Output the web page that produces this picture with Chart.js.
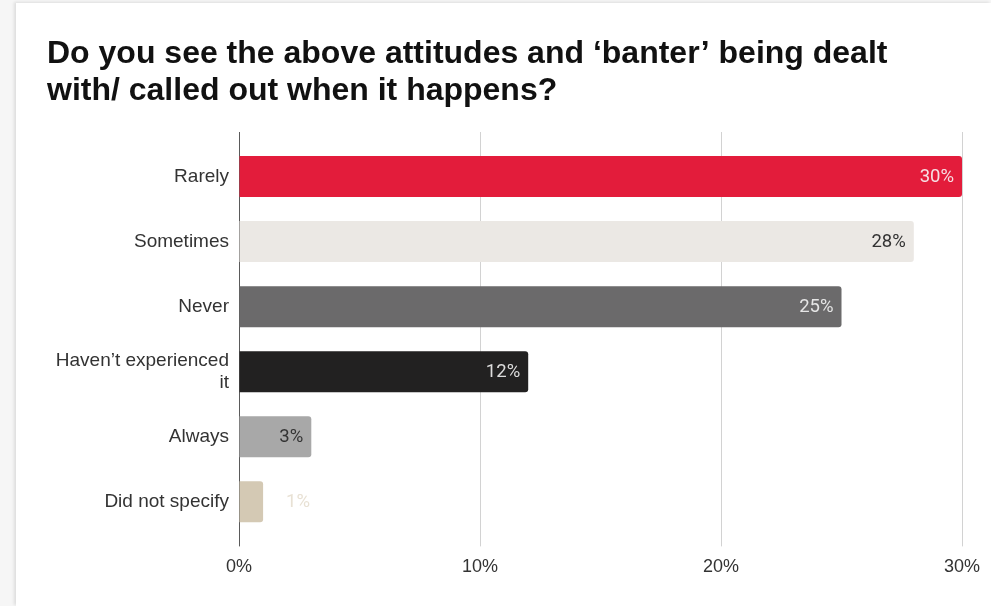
<!DOCTYPE html>
<html>
<head>
<meta charset="utf-8">
<script src="https://cdn.jsdelivr.net/npm/chart.js@4.4.1/dist/chart.umd.min.js"></script>
<style>
  html, body { margin: 0; padding: 0; background: #f6f6f6; overflow: hidden; }
  .card {
    position: absolute; left: 16px; top: 3px; width: 975px; height: 603px;
    background: #fff; box-shadow: -2px -1px 3px rgba(0, 0, 0, 0.10);
  }
</style>
</head>
<body>
<div class="card"><canvas id="bantChart" width="975" height="603"></canvas></div>
<script>
// Survey answers, in display order
const categories = ['Rarely', 'Sometimes', 'Never', ['Haven\u2019t experienced', 'it'], 'Always', 'Did not specify'];
const shares = [30, 28, 25, 12, 3, 1];
const tickValues = [0, 10, 20, 30];

const barColors = ['#e31c3b', '#ebe8e4', '#6b6a6b', '#222121', '#a8a8a8', '#d4c9b4'];
const valueColors = ['#f6dfe3', '#333333', '#e6e6e6', '#dddddd', '#333333', '#e8e1d4'];

const gridColor = (ctx) => (ctx.tick && ctx.tick.value === 0 ? '#5a5a5a' : '#d2d2d2');

// Writes the percentage at the end of each bar (outside when the bar is too short)
const valueLabels = {
    id: 'valueLabels',
    afterDatasetsDraw(chart) {
        const { ctx } = chart;
        const bars = chart.getDatasetMeta(0).data;
        ctx.save();
        ctx.font = "18.5px Roboto, 'Liberation Sans', sans-serif";
        ctx.textBaseline = 'middle';
        bars.forEach((bar, i) => {
            const v = shares[i];
            ctx.fillStyle = valueColors[i];
            if (bar.x - bar.base > 50) {
                ctx.textAlign = 'right';
                ctx.fillText(v + '%', bar.x - 8, bar.y + 1);
            } else {
                ctx.textAlign = 'left';
                ctx.fillText(v + '%', bar.x + 23, bar.y + 1);
            }
        });
        ctx.restore();
    }
};

new Chart(document.getElementById('bantChart'), {
    type: 'bar',
    data: {
        labels: categories,
        datasets: [{
            data: shares,
            backgroundColor: barColors,
            borderRadius: 3,
            borderSkipped: 'start',
            categoryPercentage: 1,
            barPercentage: 0.63
        }]
    },
    options: {
        indexAxis: 'y',
        responsive: false,
        animation: false,
        layout: { padding: { left: 31, right: 29, top: 31, bottom: 18 } },
        plugins: {
            legend: { display: false },
            tooltip: { enabled: false },
            title: {
                display: true,
                align: 'start',
                text: ['Do you see the above attitudes and \u2018banter\u2019 being dealt', 'with/ called out when it happens?'],
                color: '#111',
                font: { family: "'Liberation Sans', Arial, sans-serif", size: 32, weight: 'bold', lineHeight: '37px' },
                padding: { top: 2, bottom: 22 }
            }
        },
        scales: {
            x: {
                type: 'linear',
                position: 'bottom',
                min: 0,
                max: 30,
                afterBuildTicks: (scale) => { scale.ticks = tickValues.map(v => ({ value: v })); },
                ticks: {
                    callback: (v) => v + '%',
                    color: '#333',
                    padding: 10,
                    font: { family: "'Liberation Sans', Arial, sans-serif", size: 18 }
                },
                grid: { color: gridColor, tickLength: 12 },
                border: { display: false }
            },
            xTop: {
                type: 'linear',
                axis: 'x',
                position: 'top',
                min: 0,
                max: 30,
                afterBuildTicks: (scale) => { scale.ticks = tickValues.map(v => ({ value: v })); },
                ticks: { display: false },
                grid: { color: gridColor, tickLength: 12, drawOnChartArea: false },
                border: { display: false }
            },
            y: {
                offset: true,
                grid: { display: false, drawTicks: false },
                border: { display: false },
                afterFit: (scale) => { scale.width = 192; },
                ticks: {
                    color: '#333',
                    padding: 10,
                    font: { family: "'Liberation Sans', Arial, sans-serif", size: 19 }
                }
            }
        }
    },
    plugins: [valueLabels]
});
</script>
</body>
</html>
